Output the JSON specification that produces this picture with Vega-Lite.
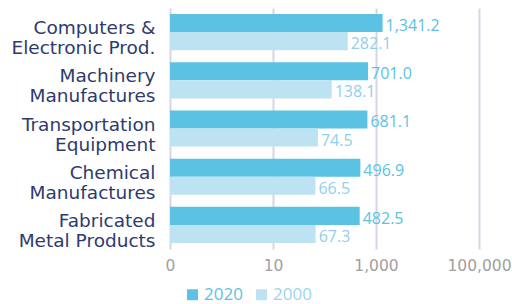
{
  "$schema": "https://vega.github.io/schema/vega-lite/v6.json",
  "autosize": {"type": "none"},
  "padding": {"left": 170, "top": 8, "right": 33, "bottom": 55},
  "width": 309,
  "height": 241,
  "background": "white",
  "config": {"view": {"stroke": null}, "font": "Open Sans"},
  "data": {
    "values": [
      {"category": "Computers &|Electronic Prod.", "year": "2020", "value": 1341.2},
      {"category": "Computers &|Electronic Prod.", "year": "2000", "value": 282.1},
      {"category": "Machinery|Manufactures", "year": "2020", "value": 701.0},
      {"category": "Machinery|Manufactures", "year": "2000", "value": 138.1},
      {"category": "Transportation|Equipment", "year": "2020", "value": 681.1},
      {"category": "Transportation|Equipment", "year": "2000", "value": 74.5},
      {"category": "Chemical|Manufactures", "year": "2020", "value": 496.9},
      {"category": "Chemical|Manufactures", "year": "2000", "value": 66.5},
      {"category": "Fabricated|Metal Products", "year": "2020", "value": 482.5},
      {"category": "Fabricated|Metal Products", "year": "2000", "value": 67.3}
    ]
  },
  "encoding": {
    "y": {
      "field": "category",
      "type": "nominal",
      "sort": null,
      "scale": {"paddingInner": 0.25, "paddingOuter": 0.125},
      "axis": {
        "title": null,
        "domain": false,
        "ticks": false,
        "labelPadding": 15,
        "labelFont": "DejaVu Sans",
        "labelFontSize": 18.5,
        "labelColor": "#2e3a6e",
        "labelLineHeight": 20,
        "labelOffset": -4,
        "labelLimit": 200,
        "labelExpr": "split(datum.label, '|')"
      }
    },
    "yOffset": {"field": "year", "type": "nominal", "sort": ["2020", "2000"], "scale": {"padding": 0}},
    "x": {
      "field": "value",
      "type": "quantitative",
      "scale": {"type": "log", "domain": [0.1, 100000], "nice": false},
      "axis": {
        "title": null,
        "values": [0.1, 10, 1000, 100000],
        "labelExpr": "datum.value < 1 ? '0' : format(datum.value, ',')",
        "domain": false,
        "ticks": false,
        "grid": true,
        "gridColor": "#d6d4e6",
        "gridWidth": 2,
        "labelColor": "#a0a0a0",
        "labelFont": "DejaVu Sans",
        "labelFontSize": 15.5,
        "labelPadding": 9,
        "labelFlush": false
      }
    }
  },
  "layer": [
    {
      "mark": {"type": "bar"},
      "encoding": {
        "x2": {"datum": 0.1},
        "color": {
          "field": "year",
          "type": "nominal",
          "scale": {"domain": ["2020", "2000"], "range": ["#5bc2e4", "#bde3f3"]},
          "legend": {
            "title": null,
            "orient": "none",
            "direction": "horizontal",
            "legendX": 14,
            "legendY": 278,
            "symbolType": "square",
            "symbolSize": 120,
            "symbolStrokeWidth": 0,
            "labelFontSize": 17,
            "columnPadding": 10,
            "labelOffset": 3,
            "encode": {
              "labels": {"update": {"fill": {"signal": "datum.value === '2020' ? '#5bc2e4' : '#9ad5ee'"}}},
              "symbols": {"update": {"fill": {"signal": "datum.value === '2020' ? '#5bc2e4' : '#a6dbf0'"}}}
            }
          }
        }
      }
    },
    {
      "mark": {"type": "text", "align": "left", "baseline": "middle", "dx": 3, "dy": 3, "fontSize": 16},
      "encoding": {
        "text": {"field": "value", "type": "quantitative", "format": ",.1f"},
        "fill": {
          "field": "year",
          "type": "nominal",
          "scale": {"domain": ["2020", "2000"], "range": ["#5bc2e4", "#8fd0ec"]},
          "legend": null
        }
      }
    }
  ]
}
